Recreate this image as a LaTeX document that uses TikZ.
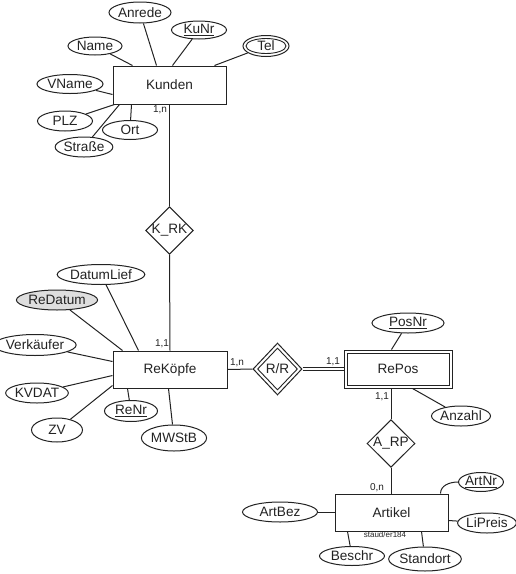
\documentclass[tikz,border=0pt]{standalone}
\usepackage{fontspec}
\setmainfont{Liberation Sans}
\usetikzlibrary{shapes.geometric,calc}
\definecolor{ink}{RGB}{35,35,35}
\definecolor{grayfill}{RGB}{222,222,222}
\tikzset{
  every node/.style={text=ink, font=\fontsize{13.6}{15}\selectfont},
  entity/.style={draw=ink, fill=white, line width=1pt, rectangle, inner sep=0pt},
  attr/.style={draw=ink, fill=white, line width=1pt, ellipse, inner sep=0pt},
  rel/.style={draw=ink, fill=white, line width=1pt, diamond, inner sep=0pt},
  innerline/.style={draw=ink, line width=0.9pt},
  card/.style={font=\fontsize{10}{12}\selectfont, inner sep=0pt},
  conn/.style={draw=ink, line width=1pt},
}
\begin{document}
\begin{tikzpicture}[x=1pt, y=-1pt]
\useasboundingbox (0,0) rectangle (515,574);

% ---------- Kunden ----------
\node[entity, minimum width=113pt, minimum height=38pt] (kunden) at (169.5,85) {Kunden};
\node[attr, minimum width=60pt, minimum height=21pt] (anrede) at (140,12.5) {Anrede};
\node[attr, minimum width=55pt, minimum height=18pt] (kunr) at (199,30) {\underline{KuNr}};
\node[attr, minimum width=54pt, minimum height=18pt] (name) at (95,46) {Name};
\node[attr, minimum width=46pt, minimum height=21pt] (tel) at (266,46) {};
\node[attr, line width=0.9pt, minimum width=40pt, minimum height=15pt] (telin) at (266,46) {Tel};
\node[attr, minimum width=66pt, minimum height=19pt] (vname) at (70,84) {VName};
\node[attr, minimum width=55pt, minimum height=20pt] (plz) at (65,121) {PLZ};
\node[attr, minimum width=55pt, minimum height=19pt] (ort) at (130,130) {Ort};
\node[attr, minimum width=56pt, minimum height=20pt] (strasse) at (84,147) {Straße};

\draw[conn] ($(kunden.north west)+(20,0)$) -- (name);
\draw[conn] ($(kunden.north west)+(44,0)$) -- (anrede);
\draw[conn] ($(kunden.north west)+(60,0)$) -- (kunr);
\draw[conn] ($(kunden.north west)+(102,0)$) -- (tel);
\draw[conn] ($(kunden.north west)+(0,29)$) -- (vname);
\draw[conn] ($(kunden.south west)+(2,0)$) -- (plz);
\draw[conn] ($(kunden.south west)+(7,0)$) -- (strasse);
\draw[conn] ($(kunden.south west)+(19,0)$) -- (ort);

% ---------- K_RK ----------
\node[rel, minimum width=47pt, minimum height=47pt] (krk) at (169.5,230.5) {K\_RK};
\draw[conn] (kunden.south) -- (krk.north);
\node[card] (c1) at (160,110) {1,n};

% ---------- ReKöpfe ----------
\node[entity, minimum width=114pt, minimum height=37pt] (rek) at (170,369.5) {ReKöpfe};
\draw[conn] (krk.south) -- (rek.north);
\node[card] (c2) at (162,344) {1,1};

\node[attr, minimum width=80pt, minimum height=20pt] (datumlief) at (101,274.5) {DatumLief};
\node[attr, fill=grayfill, minimum width=72pt, minimum height=20pt] (redatum) at (57,300) {ReDatum};
\node[attr, minimum width=70pt, minimum height=21pt] (verk) at (35,345) {Verkäufer};
\node[attr, minimum width=60pt, minimum height=20pt] (kvdat) at (37,393) {KVDAT};
\node[attr, minimum width=51pt, minimum height=24pt] (zv) at (57,430) {ZV};
\node[attr, minimum width=53pt, minimum height=21pt] (renr) at (131,411) {\underline{ReNr}};
\node[attr, minimum width=62pt, minimum height=26pt] (mwstb) at (174,438) {MWStB};

\draw[conn] ($(rek.north west)+(26,0)$) -- (datumlief);
\draw[conn] ($(rek.north west)+(10,0)$) -- (redatum);
\draw[conn] ($(rek.north west)+(0,11)$) -- (verk);
\draw[conn] ($(rek.north west)+(0,25)$) -- (kvdat);
\draw[conn] ($(rek.north west)+(0,35)$) -- (zv);
\draw[conn] ($(rek.south west)+(15,0)$) -- (renr);
\draw[conn] ($(rek.south west)+(56,0)$) -- (mwstb);

% ---------- R/R ----------
\node[rel, minimum width=49pt, minimum height=52pt] (rr) at (277.5,369) {};
\node[rel, line width=0.9pt, minimum width=40pt, minimum height=42pt] (rrin) at (277.5,369) {R/R};
\draw[conn] (rek.east) -- (rr.west);
\node[card] (c3) at (237,363) {1,n};

% ---------- RePos ----------
\node[entity, minimum width=108pt, minimum height=38pt] (repos) at (398,369) {RePos};
\draw[innerline] ($(repos.north west)+(3.5,3.5)$) rectangle ($(repos.south east)+(-3.5,-3.5)$);
\draw[conn, line width=0.9pt] ($(rr.east)+(0,-1.6)$) -- ($(repos.west)+(0,-1.6)$);
\draw[conn, line width=0.9pt] ($(rr.east)+(0,1.6)$) -- ($(repos.west)+(0,1.6)$);
\node[card] (c4) at (333,362) {1,1};

\node[attr, minimum width=72pt, minimum height=20pt] (posnr) at (408,323) {\underline{PosNr}};
\node[attr, minimum width=59pt, minimum height=20pt] (anzahl) at (461,416) {Anzahl};
\draw[conn] ($(repos.north west)+(48,0)$) -- (posnr);
\draw[conn] ($(repos.south west)+(69,0)$) -- (anzahl);

% ---------- A_RP ----------
\node[rel, minimum width=48pt, minimum height=47pt] (arp) at (391,443.5) {A\_RP};
\draw[conn] (arp.north |- repos.south) -- (arp.north);
\node[card] (c5) at (382,397) {1,1};

% ---------- Artikel ----------
\node[entity, minimum width=113pt, minimum height=37pt] (artikel) at (391.5,512.5) {Artikel};
\draw[conn] (arp.south) -- (arp.south |- artikel.north);
\node[card] (c6) at (377,488) {0,n};
\node[font=\fontsize{8}{9}\selectfont, fill=white, inner sep=0.5pt] (staud) at (385,535) {staud/er184};

\node[attr, minimum width=44pt, minimum height=19pt] (artnr) at (481,482) {\underline{ArtNr}};
\node[attr, minimum width=75pt, minimum height=20pt] (artbez) at (280,512) {ArtBez};
\node[attr, minimum width=56pt, minimum height=20pt] (lipreis) at (487,523) {LiPreis};
\node[attr, minimum width=65pt, minimum height=19pt] (beschr) at (352,556) {Beschr};
\node[attr, minimum width=64pt, minimum height=24pt] (standort) at (425,559) {Standort};

\draw[conn] ($(artikel.north east)+(-8,0)$) to[out=90, in=180] (artnr.west);
\draw[conn] (artbez.east) -- (artikel.west -| artbez.east) -- (artikel.west);
\draw[conn] ($(artikel.north east)+(0,27)$) -- (lipreis);
\draw[conn] ($(artikel.south west)+(13,0)$) -- (beschr);
\draw[conn] ($(artikel.south west)+(87,0)$) -- (standort);
\end{tikzpicture}
\end{document}
